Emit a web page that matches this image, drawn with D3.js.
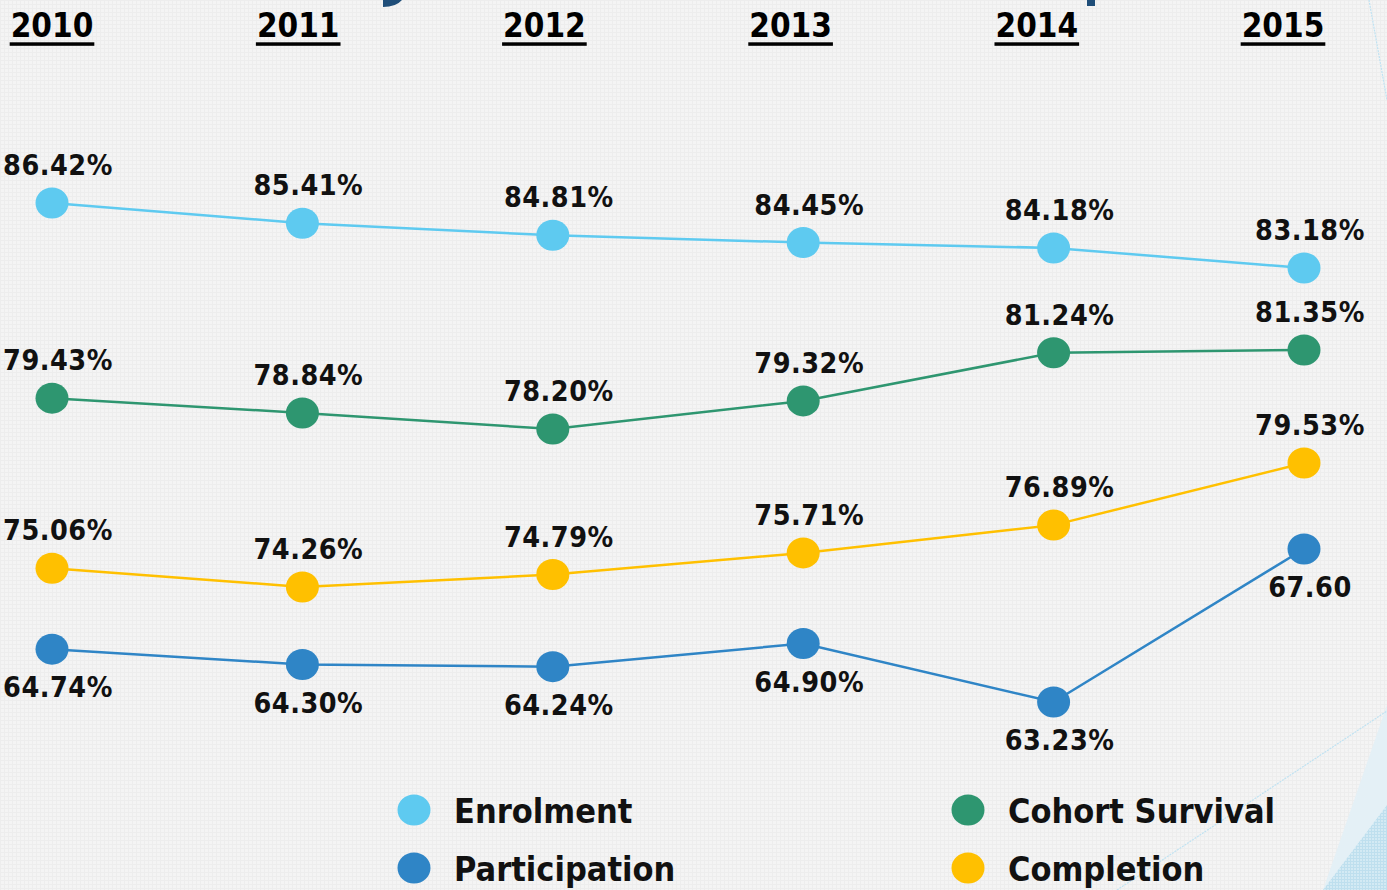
<!DOCTYPE html>
<html>
<head>
<meta charset="utf-8">
<script src="https://cdn.jsdelivr.net/npm/d3@7"></script>
<style>
  html, body { margin: 0; padding: 0; background: #F3F3F3; }
  svg { display: block; }
  .cond { font-family: 'DejaVu Sans Condensed', 'DejaVu Sans', sans-serif; font-stretch: condensed; font-weight: bold; }
</style>
</head>
<body>
<svg id="chart" width="1387" height="890"></svg>
<script>
// ---------- data ----------
const years = ["2010", "2011", "2012", "2013", "2014", "2015"];
const seriesNames = ["Enrolment", "Cohort Survival", "Completion", "Participation"];
const enrolment = [86.42, 85.41, 84.81, 84.45, 84.18, 83.18];
const cohortSurvival = [79.43, 78.84, 78.20, 79.32, 81.24, 81.35];
const completion = [75.06, 74.26, 74.79, 75.71, 76.89, 79.53];
const participation = [64.74, 64.30, 64.24, 64.90, 63.23, 67.60];
const participationLabels = ["64.74%", "64.30%", "64.24%", "64.90%", "63.23%", "67.60"];

// ---------- layout / style ----------
const W = 1387, H = 890;
const colors = {
  "Enrolment": "#5ECAF0",
  "Cohort Survival": "#2E9670",
  "Completion": "#FFC000",
  "Participation": "#2F85C6"
};
// each series is drawn in its own vertical band (pixel positions for min / max of its values)
const bands = {
  "Enrolment":       { lo: 268, hi: 203, labelPos: "above" },
  "Cohort Survival": { lo: 429, hi: 350, labelPos: "above" },
  "Completion":      { lo: 587, hi: 463, labelPos: "above" },
  "Participation":   { lo: 702, hi: 549, labelPos: "below" }
};

const seriesData = [
  { name: "Enrolment", values: enrolment },
  { name: "Cohort Survival", values: cohortSurvival },
  { name: "Completion", values: completion },
  { name: "Participation", values: participation, labels: participationLabels }
];

const svg = d3.select("#chart");

// background with faint grid texture
const defs = svg.append("defs");
const pat = defs.append("pattern").attr("id", "grid").attr("width", 4).attr("height", 4)
  .attr("patternUnits", "userSpaceOnUse");
pat.append("rect").attr("width", 4).attr("height", 4).attr("fill", "#F4F4F4");
pat.append("path").attr("d", "M0,0.5H4M0.5,0V4").attr("stroke", "#EDEDED").attr("stroke-width", 1);
const pat2 = defs.append("pattern").attr("id", "grid2").attr("width", 3).attr("height", 3)
  .attr("patternUnits", "userSpaceOnUse");
pat2.append("rect").attr("width", 3).attr("height", 3).attr("fill", "#D3EAF4");
pat2.append("path").attr("d", "M0,0.5H3M0.5,0V3").attr("stroke", "#BEDFEE").attr("stroke-width", 1);

svg.append("rect").attr("width", W).attr("height", H).attr("fill", "url(#grid)");

// decorative slide elements
svg.append("polygon").attr("points", "1323,890 1387,705 1387,890").attr("fill", "#E4F0F6");
svg.append("polygon").attr("points", "1323,890 1387,805 1387,890").attr("fill", "url(#grid2)");
svg.append("line").attr("x1", 1117).attr("y1", 890).attr("x2", 1387).attr("y2", 711)
  .attr("stroke", "#BFE2F2").attr("stroke-width", 1.2).attr("stroke-dasharray", "2,1");
svg.append("line").attr("x1", 1369).attr("y1", 0).attr("x2", 1387).attr("y2", 100)
  .attr("stroke", "#BFE2F2").attr("stroke-width", 1.2).attr("stroke-dasharray", "2,1");
// fragments of the slide title (cut off above)
svg.append("path").attr("d", "M383,0 L402,0 Q396,7 383,7 Z").attr("fill", "#1F4E79");
svg.append("rect").attr("x", 1087).attr("y", 0).attr("width", 8).attr("height", 6).attr("fill", "#1F4E79");

// ---------- scales ----------
const x = d3.scalePoint().domain(years).range([52, 1304]);
const xLabel = d3.scalePoint().domain(years).range([52, 1283]);
const yScales = {};
seriesData.forEach(s => {
  const b = bands[s.name];
  yScales[s.name] = d3.scaleLinear().domain(d3.extent(s.values)).range([b.lo, b.hi]);
});

// ---------- year header ----------
const yearG = svg.append("g").selectAll("g").data(years).join("g");
yearG.append("text")
  .attr("class", "cond")
  .attr("x", d => xLabel(d))
  .attr("y", 37)
  .attr("text-anchor", "middle")
  .attr("font-size", 33)
  .attr("fill", "#000")
  .text(d => d);
yearG.each(function () {
  const g = d3.select(this);
  const bb = g.select("text").node().getBBox();
  g.append("rect").attr("x", bb.x - 1).attr("y", 42.3).attr("width", bb.width + 2)
    .attr("height", 3.5).attr("fill", "#000");
});

// ---------- lines, markers, labels ----------
const fmt = v => d3.format(".2f")(v) + "%";
const line = d3.line();

seriesData.forEach(s => {
  const ys = yScales[s.name];
  const pts = s.values.map((v, i) => [x(years[i]), ys(v)]);
  const g = svg.append("g");
  g.append("path")
    .attr("d", line(pts))
    .attr("fill", "none")
    .attr("stroke", colors[s.name])
    .attr("stroke-width", 2.5);
  g.selectAll("ellipse").data(s.values).join("ellipse")
    .attr("cx", (v, i) => x(years[i]))
    .attr("cy", v => ys(v))
    .attr("rx", 16.5).attr("ry", 15.5)
    .attr("fill", colors[s.name]);
  const above = bands[s.name].labelPos === "above";
  g.selectAll("text").data(s.values).join("text")
    .attr("class", "cond")
    .attr("x", (v, i) => x(years[i]) + 6)
    .attr("y", v => ys(v) + (above ? -28 : 48))
    .attr("text-anchor", "middle")
    .attr("font-size", 28.5)
    .attr("letter-spacing", 0.5)
    .attr("fill", "#111")
    .text((v, i) => s.labels ? s.labels[i] : fmt(v));
});

// ---------- legend ----------
const legendOrder = ["Enrolment", "Cohort Survival", "Participation", "Completion"];
const legendCols = [414, 968];
const legendRows = [810, 868];
const lg = svg.append("g").selectAll("g").data(legendOrder).join("g")
  .attr("transform", (d, i) => `translate(${legendCols[i % 2]},${legendRows[Math.floor(i / 2)]})`);
lg.append("ellipse").attr("rx", 16.5).attr("ry", 15.5).attr("fill", d => colors[d]);
lg.append("text")
  .attr("class", "cond")
  .attr("x", 40)
  .attr("y", 12.5)
  .attr("font-size", 34)
  .attr("fill", "#111")
  .text(d => d);
</script>
</body>
</html>
